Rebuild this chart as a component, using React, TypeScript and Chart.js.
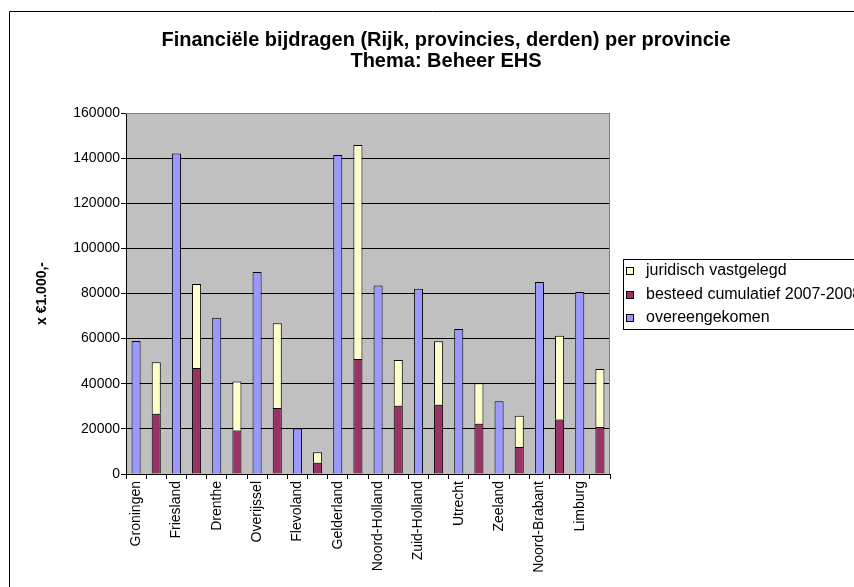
import React, { useEffect, useRef } from 'react';
import { Chart, registerables } from 'chart.js';

Chart.register(...registerables);

const provinces = [
  'Groningen', 'Friesland', 'Drenthe', 'Overijssel', 'Flevoland', 'Gelderland',
  'Noord-Holland', 'Zuid-Holland', 'Utrecht', 'Zeeland', 'Noord-Brabant', 'Limburg',
];
const overeengekomen = [59000, 142000, 69300, 89500, 20200, 141400, 83500, 82100, 64300, 32200, 85100, 80700];
const besteed = [26700, 47000, 19300, 29200, 5000, 51000, 30300, 30700, 22300, 12000, 24200, 20800];
const juridisch = [22800, 37200, 21700, 37600, 4600, 94800, 20200, 28100, 17900, 13800, 37100, 25700];

const titleLines = ['Financiële bijdragen (Rijk, provincies, derden) per provincie', 'Thema: Beheer EHS'];
const yTitle = 'x €1.000,-';
const yMax = 160000;
const yStep = 20000;

const FONT = '"Liberation Sans", Arial, sans-serif';

// interleave: each province gets a slot for the agreed bar and a slot for the stacked bar
const labels: string[] = [];
const blueData: (number | null)[] = [];
const redData: (number | null)[] = [];
const yellowData: (number | null)[] = [];
provinces.forEach((p, i) => {
  labels.push(p, '');
  blueData.push(overeengekomen[i], null);
  redData.push(null, besteed[i]);
  yellowData.push(null, juridisch[i]);
});

const W = 854;
const H = 587;
const PLOT_LEFT = 126;
const PLOT_RIGHT = 610;
const PLOT_TOP = 113;
const PLOT_BOTTOM = 474;

const decor = {
  id: 'decor',
  beforeDraw(chart: any) {
    const { ctx, chartArea } = chart;
    ctx.save();
    ctx.fillStyle = '#ffffff';
    ctx.fillRect(0, 0, chart.width, chart.height);
    // outer chart border (only top and left visible)
    ctx.strokeStyle = '#000000';
    ctx.lineWidth = 1;
    ctx.beginPath();
    ctx.moveTo(9.5, H + 5);
    ctx.lineTo(9.5, 11.5);
    ctx.lineTo(W + 5, 11.5);
    ctx.stroke();
    // plot background
    ctx.fillStyle = '#C0C0C0';
    ctx.fillRect(chartArea.left, chartArea.top, chartArea.right - chartArea.left, chartArea.bottom - chartArea.top);
    ctx.restore();
  },
  afterDraw(chart: any) {
    const { ctx, chartArea } = chart;
    ctx.save();
    // plot border top & right
    ctx.strokeStyle = '#808080';
    ctx.lineWidth = 1;
    ctx.beginPath();
    ctx.moveTo(chartArea.left, chartArea.top + 0.5);
    ctx.lineTo(chartArea.right - 0.5, chartArea.top + 0.5);
    ctx.lineTo(chartArea.right - 0.5, chartArea.bottom);
    ctx.stroke();

    // title
    ctx.fillStyle = '#000';
    ctx.font = `bold 20px ${FONT}`;
    ctx.textAlign = 'center';
    ctx.textBaseline = 'middle';
    ctx.fillText(titleLines[0], 446, 40);
    ctx.fillText(titleLines[1], 446, 61);

    // legend
    const lx = 623;
    const ly = 259;
    ctx.fillStyle = '#fff';
    ctx.fillRect(lx + 0.5, ly + 0.5, 300, 70);
    ctx.strokeStyle = '#000';
    ctx.strokeRect(lx + 0.5, ly + 0.5, 300, 70);
    const ds = chart.data.datasets.slice().reverse();
    ctx.font = `16px ${FONT}`;
    ctx.textAlign = 'left';
    ds.forEach((d: any, i: number) => {
      const cy = 271 + i * 23.5;
      ctx.fillStyle = d.backgroundColor;
      ctx.fillRect(626.5, Math.round(cy) - 3.5, 7, 7);
      ctx.strokeStyle = '#000';
      ctx.strokeRect(626.5, Math.round(cy) - 3.5, 7, 7);
      ctx.fillStyle = '#000';
      ctx.fillText(d.label, 646, cy);
    });
    ctx.restore();
  },
};

export default function App() {
  const ref = useRef<HTMLCanvasElement | null>(null);
  useEffect(() => {
    if (!ref.current) return;
    Chart.defaults.font.family = FONT;
    const padLeft = 30;
    const chart = new Chart(ref.current, {
      type: 'bar',
      data: {
        labels,
        datasets: [
          { label: 'overeengekomen', data: blueData, backgroundColor: '#9999FF', borderColor: '#000', borderWidth: 1 },
          { label: 'besteed cumulatief 2007-2008', data: redData, backgroundColor: '#993366', borderColor: '#000', borderWidth: 1 },
          { label: 'juridisch vastgelegd', data: yellowData, backgroundColor: '#FFFFCC', borderColor: '#000', borderWidth: 1 },
        ],
      },
      options: {
        responsive: false,
        animation: false,
        devicePixelRatio: 1,
        layout: { padding: { top: PLOT_TOP, right: W - PLOT_RIGHT, bottom: 0, left: padLeft } },
        datasets: { bar: { barPercentage: 0.45, categoryPercentage: 1 } },
        plugins: { legend: { display: false }, title: { display: false }, tooltip: { enabled: false } },
        scales: {
          x: {
            stacked: true,
            grid: { offset: true, drawOnChartArea: false, drawTicks: true, tickLength: 5, color: '#000' },
            border: { color: '#000' },
            ticks: { autoSkip: false, minRotation: 90, maxRotation: 90, color: '#000', font: { size: 14 }, padding: 2 },
            afterFit: (s: any) => { s.height = H - PLOT_BOTTOM; },
          },
          y: {
            stacked: true,
            min: 0,
            max: yMax,
            ticks: { stepSize: yStep, color: '#000', font: { size: 14 }, padding: 1, callback: (v: any) => String(v) },
            grid: { color: '#000', tickLength: 5 },
            border: { color: '#000' },
            title: { display: true, text: yTitle, color: '#000', font: { size: 14, weight: 'bold' } },
            afterFit: (s: any) => { s.width = PLOT_LEFT - padLeft; },
          },
        },
      },
      plugins: [decor],
    });
    return () => chart.destroy();
  }, []);
  return (
    <div style={{ position: 'absolute', left: 0, top: 0, width: W, height: H, background: '#fff' }}>
      <canvas ref={ref} width={W} height={H} />
    </div>
  );
}
